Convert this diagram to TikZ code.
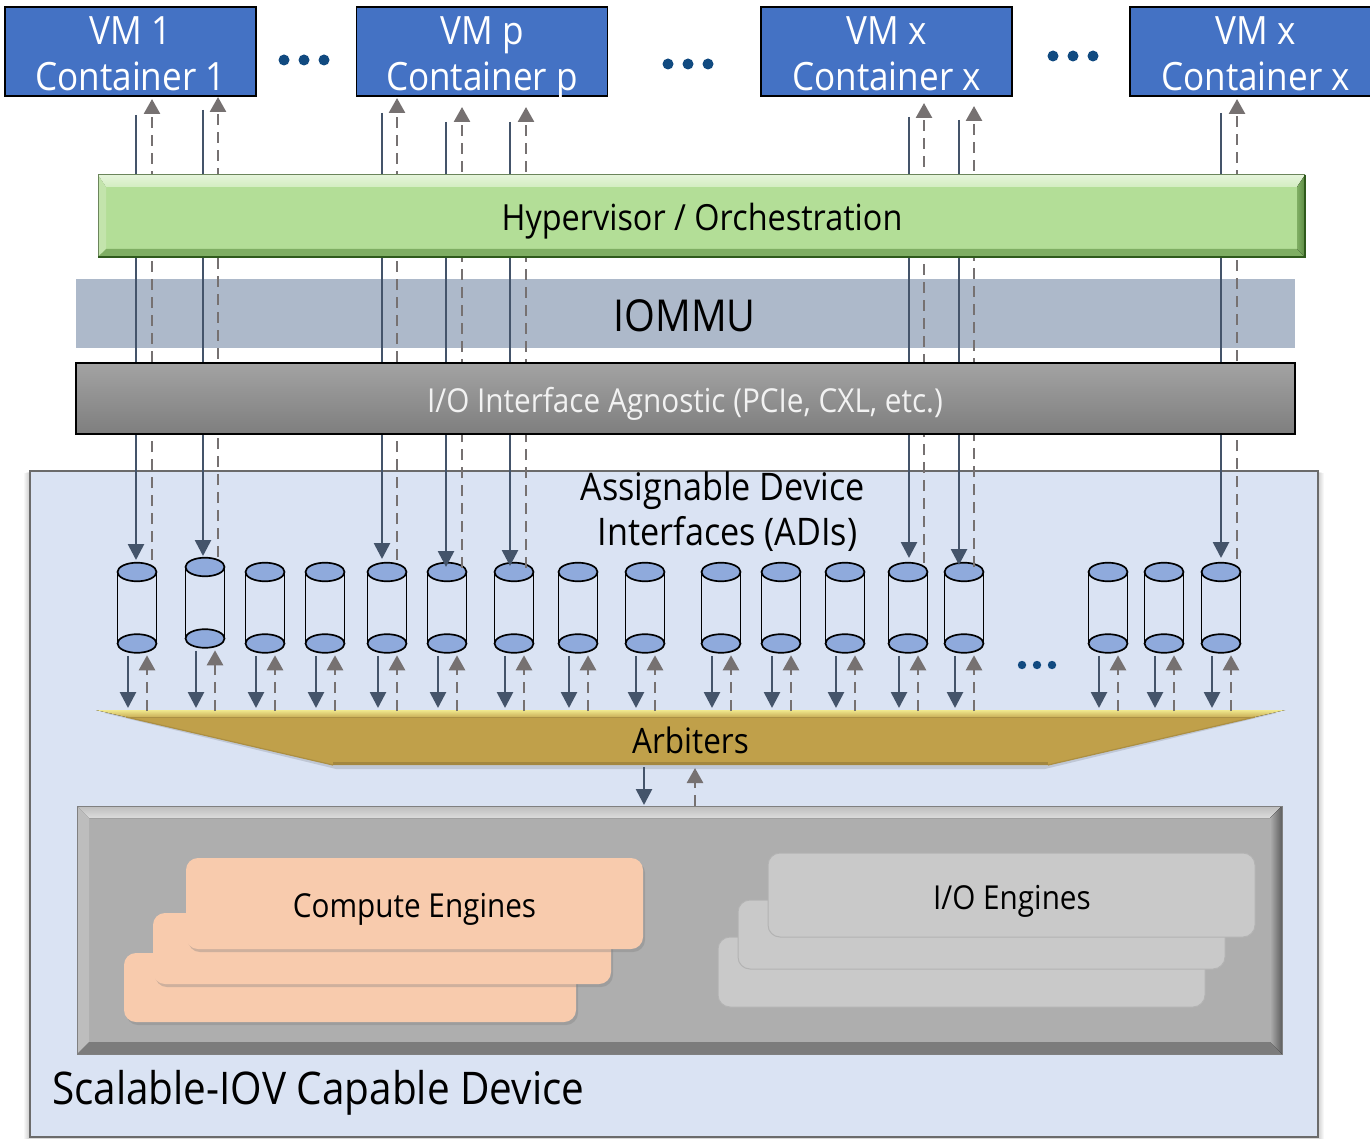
\documentclass[tikz,border=0pt]{standalone}
\usepackage{fontspec}
\setmainfont[FakeStretch=0.9]{Open Sans}
\usetikzlibrary{arrows.meta,calc,shadows}

\definecolor{vmblue}{HTML}{4472C4}
\definecolor{dotblue}{HTML}{114A80}
\definecolor{hypgreen}{HTML}{B3DE97}
\definecolor{hyplite}{HTML}{D3EDC1}
\definecolor{hypside}{HTML}{C3E4AC}
\definecolor{hypdark}{HTML}{7FAE63}
\definecolor{hypdarker}{HTML}{5C8A43}
\definecolor{hypline}{HTML}{2F5A1C}
\definecolor{iommu}{HTML}{ADB9CA}
\definecolor{iotop}{HTML}{A3A3A3}
\definecolor{iobot}{HTML}{7E7E7E}
\definecolor{devfill}{HTML}{DAE3F3}
\definecolor{devline}{HTML}{6B6B6B}
\definecolor{cylfill}{HTML}{8FAADC}
\definecolor{arrdark}{HTML}{44546A}
\definecolor{arrgray}{HTML}{767171}
\definecolor{gold}{HTML}{C0A04A}
\definecolor{goldhi}{HTML}{F0E88E}
\definecolor{golddk}{HTML}{A3873F}
\definecolor{framefill}{HTML}{AEAEAE}
\definecolor{framelite}{HTML}{DCDCDC}
\definecolor{frameside}{HTML}{BDBDBD}
\definecolor{framedark}{HTML}{7C7C7C}
\definecolor{framedarker}{HTML}{5E5E5E}
\definecolor{peach}{HTML}{F8CBAD}
\definecolor{ioeng}{HTML}{C9C9C9}
\definecolor{ioedge}{HTML}{B3B3B3}

\newcommand\txtsize[1]{\fontsize{#1}{#1}\selectfont}

\pgfdeclarelayer{back}
\pgfdeclarelayer{front}
\pgfsetlayers{back,main,front}

\tikzset{
  lbl/.style={anchor=base, inner sep=0, outer sep=0, font=\txtsize{#1}},
  vmbox/.style={draw=black, line width=1.5, fill=vmblue, minimum width=251,
    minimum height=89, inner sep=0, outer sep=0},
  adi/.style={minimum width=39, minimum height=90.1, inner sep=0, outer sep=0},
  cyl/.style={draw=black, line width=1.7, fill=cylfill},
  cylside/.style={draw=black, line width=1.7},
  dn/.style={draw=arrdark, line width=2.7, -{Triangle[length=16pt,width=16pt]}},
  upd/.style={draw=arrgray, line width=2.7, dash pattern=on 11pt off 7pt,
    -{Triangle[length=15pt,width=16pt]}},
  ceng/.style={fill=peach, rounded corners=12, inner sep=0, outer sep=0,
    drop shadow={shadow xshift=2pt, shadow yshift=-3pt, opacity=0.35}},
  ieng/.style={fill=ioeng, draw=ioedge, line width=1, rounded corners=12,
    inner sep=0, outer sep=0},
}

\begin{document}
\begin{tikzpicture}[x=1pt, y=-1pt]
\useasboundingbox (0,0) rectangle (1370,1139);

% ---------- background layer: device outline and IOMMU band ----------
\begin{pgfonlayer}{back}
  \fill[white] (0,0) rectangle (1370,1139);
  \foreach \d in {1,...,6}
    \fill[black, opacity=0.03] (30-\d,471+0.3*\d) rectangle (1318+\d,1137+\d);
  \node[fill=devfill, draw=devline, line width=1.5, minimum width=1288,
        minimum height=666, inner sep=0, outer sep=0] (dev) at (674,804) {};
  \node[fill=iommu, minimum width=1219, minimum height=69, inner sep=0,
        outer sep=0] (iommu) at (685.5,313.5) {};
  \node[lbl=44] (iommutxt) at (684.5,332) {IOMMU};
\end{pgfonlayer}

% ---------- virtual machines / containers ----------
\node[vmbox] (vm1) at (130.5,51.5) {};
\node[vmbox] (vmp) at (482,51.5) {};
\node[vmbox] (vmx) at (886.5,51.5) {};
\node[vmbox] (vmy) at (1255.5,51.5) {};
\foreach \v/\a/\b in {vm1/VM 1/Container 1, vmp/VM p/Container p,
                      vmx/VM x/Container x, vmy/VM x/Container x}{
  \node[lbl=39, text=white] (\v a) at ($(\v.north)+(0,38)$) {\a};
  \node[lbl=39, text=white] (\v b) at ($(\v.north)+(0,84)$) {\b};
}
\foreach \x in {284,304,324} \fill[dotblue] (\x,60) circle[radius=5.5pt];
\foreach \x in {668,688,708} \fill[dotblue] (\x,64) circle[radius=5.5pt];
\foreach \x in {1053,1073,1093} \fill[dotblue] (\x,56) circle[radius=5.5pt];
\foreach \x in {1022,1037,1052} \fill[dotblue] (\x,665) circle[radius=4.2pt];

% ---------- assignable device interfaces ----------
\node[lbl=38] (aditxt1) at (722.5,500) {Assignable Device};
\node[lbl=38] (aditxt2) at (727.5,545) {Interfaces (ADIs)};

\foreach \k/\cx/\yt in {1/137/572,2/205/567,3/265/572,4/325/572,5/387/572,
    6/447/572,7/514/572,8/578/572,9/645/572,10/721/572,11/781/572,12/845/572,
    13/908/572,14/964/572,15/1108/572,16/1164/572,17/1221/572}{
  \node[adi] (adi\k) at (\cx,\yt+35.75) {};
  \draw[cyl] ($(adi\k.south)+(0,-9.3)$) ellipse [x radius=19.5pt, y radius=9.3pt];
  \draw[cylside] ($(adi\k.north west)+(0,9.3)$) -- ($(adi\k.south west)+(0,-9.3)$);
  \draw[cylside] ($(adi\k.north east)+(0,9.3)$) -- ($(adi\k.south east)+(0,-9.3)$);
  \draw[cyl] ($(adi\k.north)+(0,9.3)$) ellipse [x radius=19.5pt, y radius=9.3pt];
}

% ---------- arbiters ----------
\node[minimum width=1189, minimum height=55, inner sep=0, outer sep=0] (arb) at (690.5,737.5) {};
\fill[black, opacity=0.12] ($(arb.north west)+(8,3)$) -- ($(arb.south west)+(240,4)$)
  -- ($(arb.south east)+(-240,4)$) -- ($(arb.north east)+(-8,3)$) -- cycle;
\fill[gold] (arb.north west) -- (arb.north east) -- ($(arb.south east)+(-237,0)$)
  -- ($(arb.south west)+(237,0)$) -- cycle;
\fill[top color=goldhi, bottom color=gold!80!goldhi] (arb.north west) -- (arb.north east)
  -- ($(arb.north east)+(-30,7)$) -- ($(arb.north west)+(30,7)$) -- cycle;
\draw[golddk, line width=3] ($(arb.south west)+(237,-1.5)$) -- ($(arb.south east)+(-237,-1.5)$);
\draw[golddk!70!gold, line width=1.2] ($(arb.north west)+(30,7)$) -- ($(arb.south west)+(237,0)$);
\draw[golddk!70!gold, line width=1.2] ($(arb.north east)+(-30,7)$) -- ($(arb.south east)+(-237,0)$);
\node[lbl=35] (arbtxt) at (690.5,753) {Arbiters};

\foreach \k in {1,...,17}{
  \draw[dn] ($(adi\k.south)+(-9,3)$) -- ($(adi\k.south |- arb.north)+(-9,-2)$);
  \draw[upd] ($(adi\k.south |- arb.north)+(10,1)$) -- ($(adi\k.south)+(10,2.5)$);
}

% ---------- engine block ----------
\node[fill=framefill, minimum width=1205, minimum height=248, inner sep=0, outer sep=0] (eng) at (679.5,930) {};
\fill[top color=frameside, bottom color=framelite] (eng.north west) -- (eng.north east)
  -- ($(eng.north east)+(-12,12)$) -- ($(eng.north west)+(12,12)$) -- cycle;
\fill[frameside] (eng.north west) -- ($(eng.north west)+(12,12)$) -- ($(eng.south west)+(12,-12)$) -- (eng.south west) -- cycle;
\fill[framedark] (eng.south west) -- ($(eng.south west)+(12,-12)$) -- ($(eng.south east)+(-12,-12)$) -- (eng.south east) -- cycle;
\fill[left color=framefill, right color=framedarker] (eng.north east) -- (eng.south east)
  -- ($(eng.south east)+(-12,-12)$) -- ($(eng.north east)+(-12,12)$) -- cycle;
\draw[gray, line width=1] (eng.north west) rectangle (eng.south east);

\node[ceng, minimum width=452, minimum height=69] (ce3) at (350,987.5) {};
\node[ceng, minimum width=458, minimum height=71] (ce2) at (382,948.5) {};
\node[ceng, minimum width=457, minimum height=91] (ce1) at (414.5,903.5) {};
\node[lbl=33] (cetxt) at (414.5,917) {Compute Engines};

\node[ieng, minimum width=487, minimum height=70] (ie3) at (961.5,972) {};
\node[ieng, minimum width=487, minimum height=69] (ie2) at (981.5,934.5) {};
\node[ieng, minimum width=487, minimum height=84] (ie1) at (1011.5,895) {};
\node[lbl=33] (ietxt) at (1012,909) {I/O Engines};

\node[lbl=45, anchor=base west] (devtxt) at (52,1104) {Scalable-IOV Capable Device};

% arbiters <-> engines
\draw[dn] ($(arb.south)+(-46.5,2)$) -- ($(eng.north)+(-35.5,-1)$);
\draw[upd] ($(eng.north)+(15.5,0)$) -- ($(arb.south)+(4.5,3)$);

% ---------- paths between VMs and their interfaces ----------
\coordinate (in1) at (136,115);
\coordinate (in2) at (203,110);
\coordinate (in3) at (382,113);
\coordinate (in4) at (446,122);
\coordinate (in5) at (510,122);
\coordinate (in6) at (909,117);
\coordinate (in7) at (959,120);
\coordinate (in8) at (1221,113);

\draw[dn] (in1) -- ($(adi1.north)+(-1,-2.7)$);
\draw[upd] ($(adi1.north)+(15,-2.7)$) -- ($(vm1.south)+(21.5,3)$);
\draw[dn] (in2) -- ($(adi2.north)+(-2,-1.7)$);
\draw[upd] ($(adi2.north)+(13,-0.7)$) -- ($(vm1.south)+(87.5,1)$);
\draw[dn] (in3) -- ($(adi5.north)+(-5,-3.7)$);
\draw[upd] ($(adi5.north)+(10,-2.7)$) -- ($(vmp.south)+(-85,2)$);
\draw[dn] (in4) -- ($(adi6.north)+(-1,4.3)$);
\draw[upd] ($(adi6.north)+(15,5.3)$) -- ($(vmp.south)+(-20,11)$);
\draw[dn] (in5) -- ($(adi7.north)+(-4,3.3)$);
\draw[upd] ($(adi7.north)+(12,5.3)$) -- ($(vmp.south)+(44,11)$);
\draw[dn] (in6) -- ($(adi13.north)+(1,-4.7)$);
\draw[upd] ($(adi13.north)+(16,0.3)$) -- ($(vmx.south)+(37.5,7)$);
\draw[dn] (in7) -- ($(adi14.north)+(-5,2.3)$);
\draw[upd] ($(adi14.north)+(10,4.3)$) -- ($(vmx.south)+(87.5,10)$);
\draw[dn] (in8) -- ($(adi17.north)+(0,-4.7)$);
\draw[upd] ($(adi17.north)+(16,-3.7)$) -- ($(vmy.south)+(-18.5,3)$);

% ---------- front layer: hypervisor bar and I/O interface ----------
\begin{pgfonlayer}{front}
  \node[fill=hypgreen, minimum width=1207, minimum height=82, inner sep=0, outer sep=0] (hyp) at (701.5,216) {};
  \fill[top color=hyplite!60!white, bottom color=hyplite] (hyp.north west) -- (hyp.north east)
    -- ($(hyp.north east)+(-8,12)$) -- ($(hyp.north west)+(8,12)$) -- cycle;
  \fill[hypside] (hyp.north west) -- ($(hyp.north west)+(8,12)$) -- ($(hyp.south west)+(8,-8)$) -- (hyp.south west) -- cycle;
  \fill[hypdark] (hyp.south west) -- ($(hyp.south west)+(8,-8)$) -- ($(hyp.south east)+(-8,-8)$) -- (hyp.south east) -- cycle;
  \fill[left color=hypdark, right color=hypdarker] (hyp.north east) -- (hyp.south east)
    -- ($(hyp.south east)+(-8,-8)$) -- ($(hyp.north east)+(-8,12)$) -- cycle;
  \draw[hypgreen!60!black, line width=1] (hyp.south west) -- (hyp.north west) -- (hyp.north east);
  \draw[hypline, line width=2.5] (hyp.north east) -- (hyp.south east) -- (hyp.south west);
  \node[lbl=36] (hyptxt) at (702,231) {Hypervisor / Orchestration};

  \node[draw=black, line width=1.5, top color=iotop, bottom color=iobot, minimum width=1219,
        minimum height=71, inner sep=0, outer sep=0] (ioif) at (685.5,398.5) {};
  \node[lbl=33, text=white!95!black] (ioiftxt) at (685,412) {I/O Interface Agnostic (PCIe, CXL, etc.)};
\end{pgfonlayer}
\end{tikzpicture}
\end{document}
